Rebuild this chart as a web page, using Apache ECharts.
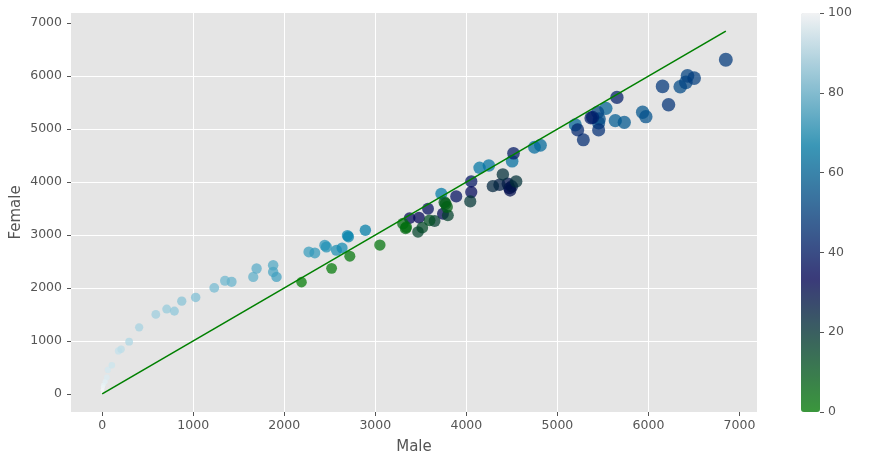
<!DOCTYPE html>
<html>
<head>
<meta charset="utf-8">
<script src="https://cdn.jsdelivr.net/npm/echarts@6/dist/echarts.min.js"></script>
<style>
html,body{margin:0;padding:0;background:#fff;}
#c{width:874px;height:467px;}
</style>
</head>
<body>
<div id="c"></div>
<script>
// ---- data ----
const male = [2,3,8,14,33,51,62,106,179,208,296,406,589,709,793,874,1027,1231,1349,1422,1659,1696,1878,1878,1915,
  2270,2336,2445,2463,2573,2635,2694,2705,2891,3725,4145,4247,4503,4748,4814,
  5197,5533,5636,5735,5936,5972,5460,5453,5442,6349,6411,6429,6502,6850,6155,6221,5453,5285,5223,5387,5369,5654,
  4518,4054,3889,3579,4054,3377,3480,3743,4474,4481,4455,4500,4364,4291,4401,4547,4043,3651,3797,3469,3516,3596,
  3760,3772,3787,3333,3304,3340,3050,2720,2520,2190];
const female = [20,75,130,170,232,314,452,540,810,842,985,1256,1501,1601,1563,1751,1821,2002,2134,2115,2209,2367,2429,2303,2209,
  2680,2661,2806,2774,2712,2755,2990,2965,3089,3780,4269,4313,4394,4657,4695,
  5079,5392,5160,5128,5317,5235,5192,5116,5317,5800,5882,6007,5964,6309,5806,5461,4985,4797,4985,5222,5211,5599,
  4544,4011,3729,3497,3810,3320,3327,3403,3885,3842,3968,3920,3949,3923,4144,4011,3635,3264,3371,3057,3139,3277,
  3620,3591,3527,3125,3214,3150,2810,2600,2370,2110];
const colorValue = [100,99,98,97,96,95,94,93,92,91,89,88,87,86,85,84,83,82,81,80,79,78,77,76,75,
  74,73,72,71,70,69,68,67,66,65,64,63,62,61,60,
  59,58,57,56,55,54,53,52,51,52,51,50,49,48,47,46,45,44,43,42,41,40,
  39,38,37,36,35,34,33,32,31,30,29,28,26,24,22,21,20,18,17,16,15,13,
  11,9,8,7,6,5,4,3,2,1];
const axisTicks = [0,1000,2000,3000,4000,5000,6000,7000];
const colorTicks = [0,20,40,60,80,100];
const xName = 'Male';
const yName = 'Female';

// ---- build ----
const points = male.map((m, i) => [m, female[i], colorValue[i]]);
const maxVal = Math.max(...male, ...female);
const pad = maxVal * 0.05;
const lineEnd = Math.max(...male);

const txt = '#555555';
const font = 'DejaVu Sans';
const plain = v => String(v);

function valueAxis(name, isX) {
  return {
    type: 'value',
    gridIndex: 0,
    min: -pad,
    max: maxVal + pad,
    name: name,
    nameLocation: 'middle',
    nameGap: isX ? 28 : 47,
    nameMoveOverlap: false,
    nameTextStyle: {color: txt, fontSize: 15, fontFamily: font},
    axisLine: {show: false, onZero: false},
    axisTick: {show: true, length: 4, lineStyle: {color: txt, width: 1}, customValues: axisTicks},
    axisLabel: {color: txt, fontSize: 12.5, fontFamily: font, margin: isX ? 7 : 9,
                customValues: axisTicks, formatter: plain},
    splitLine: {show: true, lineStyle: {color: '#ffffff', width: 1}, showMinLine: false, showMaxLine: false}
  };
}

const chart = echarts.init(document.getElementById('c'), null, {renderer: 'canvas'});
chart.setOption({
  animation: false,
  backgroundColor: '#ffffff',
  grid: [
    {left: 71, top: 13, width: 686, height: 399, show: true, backgroundColor: '#E5E5E5', borderWidth: 0,
     containLabel: false, outerBoundsMode: 'none'},
    {left: 801, top: 13, width: 19, height: 399, show: false, containLabel: false, outerBoundsMode: 'none'}
  ],
  xAxis: [
    valueAxis(xName, true),
    {type: 'value', gridIndex: 1, show: false, min: 0, max: 1, axisLine: {onZero: false}}
  ],
  yAxis: [
    valueAxis(yName, false),
    {type: 'value', gridIndex: 1, position: 'right', min: 0, max: 100,
     axisLine: {show: false, onZero: false},
     axisTick: {show: true, length: 4, lineStyle: {color: txt}, customValues: colorTicks},
     axisLabel: {color: txt, fontSize: 12.5, fontFamily: font, margin: 8,
                 customValues: colorTicks, formatter: plain},
     splitLine: {show: false}}
  ],
  visualMap: {
    type: 'continuous',
    min: 0, max: 100,
    dimension: 2,
    seriesIndex: 0,
    calculable: false,
    hoverLink: false,
    text: null,
    showLabel: false,
    left: 801, top: 13,
    itemWidth: 19, itemHeight: 399,
    padding: 0,
    inRange: {
      color: ['rgba(0,128,0,0.72)', 'rgba(0,0,85,0.72)', 'rgba(0,128,170,0.72)', 'rgba(255,255,255,0.72)']
    }
  },
  series: [
    {
      type: 'scatter',
      xAxisIndex: 0, yAxisIndex: 0,
      data: points,
      symbolSize: function (v) { return 1.3 * Math.pow(v[0] + v[1], 0.25); },
      itemStyle: {opacity: 1},
      z: 2
    },
    {
      type: 'line',
      xAxisIndex: 0, yAxisIndex: 0,
      data: [[0, 0], [lineEnd, lineEnd]],
      symbol: 'none',
      lineStyle: {color: '#008000', width: 1.6},
      z: 3
    },
    {
      type: 'scatter', xAxisIndex: 1, yAxisIndex: 1, data: []
    }
  ]
});
</script>
</body>
</html>
